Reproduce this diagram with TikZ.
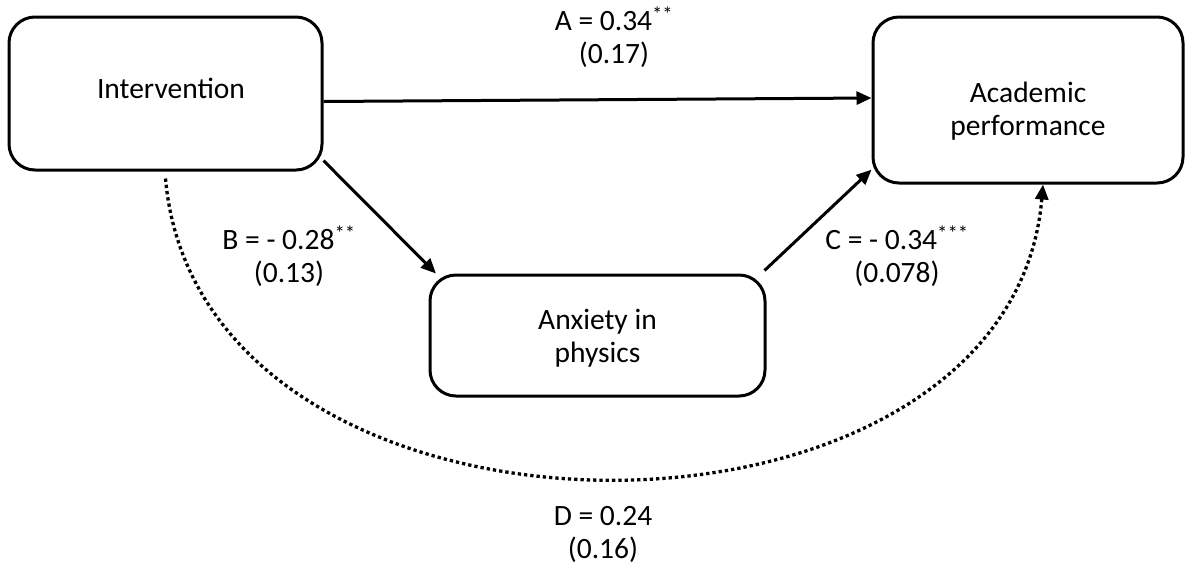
\documentclass[tikz,border=0pt]{standalone}
\usepackage{fontspec}
\setmainfont{Carlito}
\usetikzlibrary{arrows.meta}
\begin{document}
\begin{tikzpicture}[x=1pt,y=-1pt,
  box/.style={draw,line width=3pt,rounded corners=26pt,inner sep=0pt},
  lab/.style={align=center,inner sep=0pt,font=\fontsize{29.5}{33}\selectfont},
  arr/.style={line width=3pt,-{Triangle[length=15pt,width=13pt]}},
  dotarr/.style={line width=3.3pt,dash pattern=on 3.3pt off 3pt,-{Triangle[length=15pt,width=13pt]}}]
\useasboundingbox (0,0) rectangle (1193,566);
\node[box,minimum width=313pt,minimum height=153pt] (int) at (165.5,93.5) {};
\node[box,minimum width=310pt,minimum height=166pt] (acad) at (1028,100) {};
\node[box,minimum width=335pt,minimum height=121pt] (anx) at (597.5,335.5) {};
\node[lab] (intt) at (171,88) {Intervention};
\node[lab] (acadt) at (1028,111) {Academic\\performance};
\node[lab] (anxt) at (597.5,338) {Anxiety in\\physics};
\draw[arr] ([yshift=-8pt]int.east) -- ([yshift=2pt]acad.west);
\draw[arr] (int.-23) -- (anx.159);
\draw[arr] ([shift={(-2pt,3pt)}]anx.north east) -- (acad.204);
\draw[dotarr] ([yshift=-7pt]int.south) .. controls +(35,400) and +(-33,392) .. ([xshift=15pt]acad.south);
\node[lab] (la) at (614,37) {A = 0.34\textsuperscript{**}\\(0.17)};
\node[lab] (lb) at (289,256) {B = - 0.28\textsuperscript{**}\\(0.13)};
\node[lab] (lc) at (897,256) {C = - 0.34\textsuperscript{***}\\(0.078)};
\node[lab] (ld) at (603,534) {D = 0.24\\(0.16)};
\end{tikzpicture}
\end{document}
